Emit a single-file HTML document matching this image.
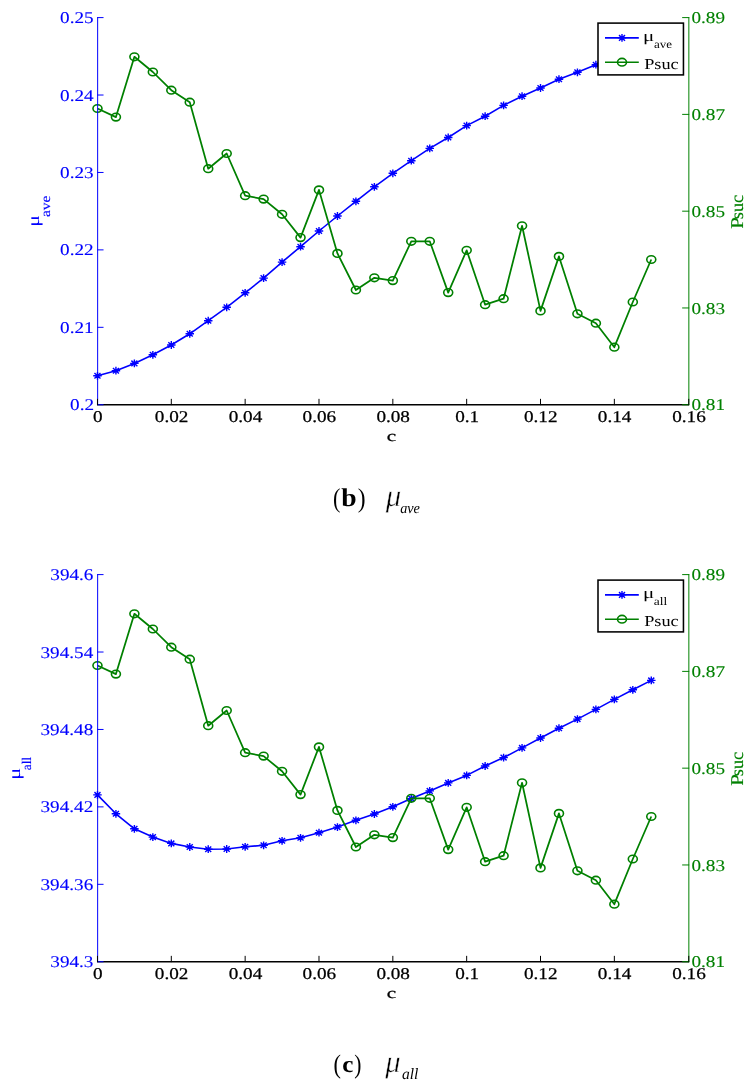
<!DOCTYPE html>
<html><head><meta charset="utf-8"><style>
html,body{margin:0;padding:0;background:#fff;overflow:hidden;}
svg{display:block;will-change:transform;}
</style></head><body>
<svg width="755" height="1090" viewBox="0 0 755 1090" text-rendering="geometricPrecision">
<rect width="755" height="1090" fill="#fff"/>
<polyline points="97.47,375.80 115.93,370.70 134.39,363.40 152.85,354.80 171.31,345.00 189.77,333.80 208.23,320.70 226.69,307.30 245.15,292.80 263.61,278.10 282.07,262.10 300.53,246.70 318.99,231.00 337.45,216.00 355.91,201.30 374.37,186.80 392.83,173.30 411.29,160.70 429.75,148.40 448.21,137.50 466.67,125.60 485.13,116.20 503.59,105.40 522.05,96.20 540.51,88.00 558.97,79.20 577.43,72.30 595.89,64.70 614.35,57.90 632.81,51.20 651.27,44.60" fill="none" stroke="#0000ff" stroke-width="1.6" stroke-linejoin="round"/>
<path d="M93.22,375.80L101.72,375.80M97.47,371.90L97.47,379.70M94.46,373.04L100.48,378.56M94.46,378.56L100.48,373.04M111.68,370.70L120.18,370.70M115.93,366.80L115.93,374.60M112.92,367.94L118.94,373.46M112.92,373.46L118.94,367.94M130.14,363.40L138.64,363.40M134.39,359.50L134.39,367.30M131.38,360.64L137.40,366.16M131.38,366.16L137.40,360.64M148.60,354.80L157.10,354.80M152.85,350.90L152.85,358.70M149.84,352.04L155.86,357.56M149.84,357.56L155.86,352.04M167.06,345.00L175.56,345.00M171.31,341.10L171.31,348.90M168.30,342.24L174.32,347.76M168.30,347.76L174.32,342.24M185.52,333.80L194.02,333.80M189.77,329.90L189.77,337.70M186.76,331.04L192.78,336.56M186.76,336.56L192.78,331.04M203.98,320.70L212.48,320.70M208.23,316.80L208.23,324.60M205.22,317.94L211.24,323.46M205.22,323.46L211.24,317.94M222.44,307.30L230.94,307.30M226.69,303.40L226.69,311.20M223.68,304.54L229.70,310.06M223.68,310.06L229.70,304.54M240.90,292.80L249.40,292.80M245.15,288.90L245.15,296.70M242.14,290.04L248.16,295.56M242.14,295.56L248.16,290.04M259.36,278.10L267.86,278.10M263.61,274.20L263.61,282.00M260.60,275.34L266.62,280.86M260.60,280.86L266.62,275.34M277.82,262.10L286.32,262.10M282.07,258.20L282.07,266.00M279.06,259.34L285.08,264.86M279.06,264.86L285.08,259.34M296.28,246.70L304.78,246.70M300.53,242.80L300.53,250.60M297.52,243.94L303.54,249.46M297.52,249.46L303.54,243.94M314.74,231.00L323.24,231.00M318.99,227.10L318.99,234.90M315.98,228.24L322.00,233.76M315.98,233.76L322.00,228.24M333.20,216.00L341.70,216.00M337.45,212.10L337.45,219.90M334.44,213.24L340.46,218.76M334.44,218.76L340.46,213.24M351.66,201.30L360.16,201.30M355.91,197.40L355.91,205.20M352.90,198.54L358.92,204.06M352.90,204.06L358.92,198.54M370.12,186.80L378.62,186.80M374.37,182.90L374.37,190.70M371.36,184.04L377.38,189.56M371.36,189.56L377.38,184.04M388.58,173.30L397.08,173.30M392.83,169.40L392.83,177.20M389.82,170.54L395.84,176.06M389.82,176.06L395.84,170.54M407.04,160.70L415.54,160.70M411.29,156.80L411.29,164.60M408.28,157.94L414.30,163.46M408.28,163.46L414.30,157.94M425.50,148.40L434.00,148.40M429.75,144.50L429.75,152.30M426.74,145.64L432.76,151.16M426.74,151.16L432.76,145.64M443.96,137.50L452.46,137.50M448.21,133.60L448.21,141.40M445.20,134.74L451.22,140.26M445.20,140.26L451.22,134.74M462.42,125.60L470.92,125.60M466.67,121.70L466.67,129.50M463.66,122.84L469.68,128.36M463.66,128.36L469.68,122.84M480.88,116.20L489.38,116.20M485.13,112.30L485.13,120.10M482.12,113.44L488.14,118.96M482.12,118.96L488.14,113.44M499.34,105.40L507.84,105.40M503.59,101.50L503.59,109.30M500.58,102.64L506.60,108.16M500.58,108.16L506.60,102.64M517.80,96.20L526.30,96.20M522.05,92.30L522.05,100.10M519.04,93.44L525.06,98.96M519.04,98.96L525.06,93.44M536.26,88.00L544.76,88.00M540.51,84.10L540.51,91.90M537.50,85.24L543.52,90.76M537.50,90.76L543.52,85.24M554.72,79.20L563.22,79.20M558.97,75.30L558.97,83.10M555.96,76.44L561.98,81.96M555.96,81.96L561.98,76.44M573.18,72.30L581.68,72.30M577.43,68.40L577.43,76.20M574.42,69.54L580.44,75.06M574.42,75.06L580.44,69.54M591.64,64.70L600.14,64.70M595.89,60.80L595.89,68.60M592.88,61.94L598.90,67.46M592.88,67.46L598.90,61.94M610.10,57.90L618.60,57.90M614.35,54.00L614.35,61.80M611.34,55.14L617.36,60.66M611.34,60.66L617.36,55.14M628.56,51.20L637.06,51.20M632.81,47.30L632.81,55.10M629.80,48.44L635.82,53.96M629.80,53.96L635.82,48.44M647.02,44.60L655.52,44.60M651.27,40.70L651.27,48.50M648.26,41.84L654.28,47.36M648.26,47.36L654.28,41.84" stroke="#0000ff" stroke-width="1.4" fill="none"/>
<polyline points="97.47,108.50 115.93,117.10 134.39,56.80 152.85,72.00 171.31,90.20 189.77,102.20 208.23,168.70 226.69,153.50 245.15,195.70 263.61,199.10 282.07,214.30 300.53,237.60 318.99,189.90 337.45,253.40 355.91,290.00 374.37,277.80 392.83,280.60 411.29,241.30 429.75,241.30 448.21,292.60 466.67,250.30 485.13,304.70 503.59,298.70 522.05,225.80 540.51,310.90 558.97,256.40 577.43,313.80 595.89,323.20 614.35,347.20 632.81,302.00 651.27,259.50" fill="none" stroke="#008000" stroke-width="1.75" stroke-linejoin="round"/>
<ellipse cx="97.47" cy="108.50" rx="4.5" ry="3.8" fill="none" stroke="#008000" stroke-width="1.6"/>
<ellipse cx="115.93" cy="117.10" rx="4.5" ry="3.8" fill="none" stroke="#008000" stroke-width="1.6"/>
<ellipse cx="134.39" cy="56.80" rx="4.5" ry="3.8" fill="none" stroke="#008000" stroke-width="1.6"/>
<ellipse cx="152.85" cy="72.00" rx="4.5" ry="3.8" fill="none" stroke="#008000" stroke-width="1.6"/>
<ellipse cx="171.31" cy="90.20" rx="4.5" ry="3.8" fill="none" stroke="#008000" stroke-width="1.6"/>
<ellipse cx="189.77" cy="102.20" rx="4.5" ry="3.8" fill="none" stroke="#008000" stroke-width="1.6"/>
<ellipse cx="208.23" cy="168.70" rx="4.5" ry="3.8" fill="none" stroke="#008000" stroke-width="1.6"/>
<ellipse cx="226.69" cy="153.50" rx="4.5" ry="3.8" fill="none" stroke="#008000" stroke-width="1.6"/>
<ellipse cx="245.15" cy="195.70" rx="4.5" ry="3.8" fill="none" stroke="#008000" stroke-width="1.6"/>
<ellipse cx="263.61" cy="199.10" rx="4.5" ry="3.8" fill="none" stroke="#008000" stroke-width="1.6"/>
<ellipse cx="282.07" cy="214.30" rx="4.5" ry="3.8" fill="none" stroke="#008000" stroke-width="1.6"/>
<ellipse cx="300.53" cy="237.60" rx="4.5" ry="3.8" fill="none" stroke="#008000" stroke-width="1.6"/>
<ellipse cx="318.99" cy="189.90" rx="4.5" ry="3.8" fill="none" stroke="#008000" stroke-width="1.6"/>
<ellipse cx="337.45" cy="253.40" rx="4.5" ry="3.8" fill="none" stroke="#008000" stroke-width="1.6"/>
<ellipse cx="355.91" cy="290.00" rx="4.5" ry="3.8" fill="none" stroke="#008000" stroke-width="1.6"/>
<ellipse cx="374.37" cy="277.80" rx="4.5" ry="3.8" fill="none" stroke="#008000" stroke-width="1.6"/>
<ellipse cx="392.83" cy="280.60" rx="4.5" ry="3.8" fill="none" stroke="#008000" stroke-width="1.6"/>
<ellipse cx="411.29" cy="241.30" rx="4.5" ry="3.8" fill="none" stroke="#008000" stroke-width="1.6"/>
<ellipse cx="429.75" cy="241.30" rx="4.5" ry="3.8" fill="none" stroke="#008000" stroke-width="1.6"/>
<ellipse cx="448.21" cy="292.60" rx="4.5" ry="3.8" fill="none" stroke="#008000" stroke-width="1.6"/>
<ellipse cx="466.67" cy="250.30" rx="4.5" ry="3.8" fill="none" stroke="#008000" stroke-width="1.6"/>
<ellipse cx="485.13" cy="304.70" rx="4.5" ry="3.8" fill="none" stroke="#008000" stroke-width="1.6"/>
<ellipse cx="503.59" cy="298.70" rx="4.5" ry="3.8" fill="none" stroke="#008000" stroke-width="1.6"/>
<ellipse cx="522.05" cy="225.80" rx="4.5" ry="3.8" fill="none" stroke="#008000" stroke-width="1.6"/>
<ellipse cx="540.51" cy="310.90" rx="4.5" ry="3.8" fill="none" stroke="#008000" stroke-width="1.6"/>
<ellipse cx="558.97" cy="256.40" rx="4.5" ry="3.8" fill="none" stroke="#008000" stroke-width="1.6"/>
<ellipse cx="577.43" cy="313.80" rx="4.5" ry="3.8" fill="none" stroke="#008000" stroke-width="1.6"/>
<ellipse cx="595.89" cy="323.20" rx="4.5" ry="3.8" fill="none" stroke="#008000" stroke-width="1.6"/>
<ellipse cx="614.35" cy="347.20" rx="4.5" ry="3.8" fill="none" stroke="#008000" stroke-width="1.6"/>
<ellipse cx="632.81" cy="302.00" rx="4.5" ry="3.8" fill="none" stroke="#008000" stroke-width="1.6"/>
<ellipse cx="651.27" cy="259.50" rx="4.5" ry="3.8" fill="none" stroke="#008000" stroke-width="1.6"/>
<line x1="97.65" y1="17.1" x2="97.65" y2="404.75" stroke="#0000ff" stroke-width="1.0"/>
<line x1="97.15" y1="404.75" x2="688.85" y2="404.75" stroke="#000000" stroke-width="1.45"/>
<text transform="translate(386.66,441.45) scale(1.3862,1)" font-family="Liberation Serif" font-size="15.208" fill="#000000" stroke="#000000" stroke-width="0.25">c</text>
<line x1="97.65" y1="404.75" x2="103.15" y2="404.75" stroke="#0000ff" stroke-width="1.0" stroke-linecap="round"/>
<text transform="translate(70.07,410.22) scale(1.1700,1)" font-family="Liberation Serif" font-size="16.400" fill="#0000ff" stroke="#0000ff" stroke-width="0.12">0.2</text>
<line x1="97.65" y1="327.32" x2="103.15" y2="327.32" stroke="#0000ff" stroke-width="1.0" stroke-linecap="round"/>
<text transform="translate(60.09,332.79) scale(1.1700,1)" font-family="Liberation Serif" font-size="16.400" fill="#0000ff" stroke="#0000ff" stroke-width="0.12">0.21</text>
<line x1="97.65" y1="249.89" x2="103.15" y2="249.89" stroke="#0000ff" stroke-width="1.0" stroke-linecap="round"/>
<text transform="translate(60.09,255.36) scale(1.1700,1)" font-family="Liberation Serif" font-size="16.400" fill="#0000ff" stroke="#0000ff" stroke-width="0.12">0.22</text>
<line x1="97.65" y1="172.46" x2="103.15" y2="172.46" stroke="#0000ff" stroke-width="1.0" stroke-linecap="round"/>
<text transform="translate(60.09,177.93) scale(1.1700,1)" font-family="Liberation Serif" font-size="16.400" fill="#0000ff" stroke="#0000ff" stroke-width="0.12">0.23</text>
<line x1="97.65" y1="95.03" x2="103.15" y2="95.03" stroke="#0000ff" stroke-width="1.0" stroke-linecap="round"/>
<text transform="translate(60.09,100.50) scale(1.1700,1)" font-family="Liberation Serif" font-size="16.400" fill="#0000ff" stroke="#0000ff" stroke-width="0.12">0.24</text>
<line x1="97.65" y1="17.60" x2="103.15" y2="17.60" stroke="#0000ff" stroke-width="1.0" stroke-linecap="round"/>
<text transform="translate(60.09,23.07) scale(1.1700,1)" font-family="Liberation Serif" font-size="16.400" fill="#0000ff" stroke="#0000ff" stroke-width="0.12">0.25</text>
<line x1="688.85" y1="17.1" x2="688.85" y2="405.25" stroke="#008000" stroke-width="1.0"/>
<line x1="682.5500000000001" y1="404.75" x2="688.85" y2="404.75" stroke="#008000" stroke-width="1.0" stroke-linecap="round"/>
<text transform="translate(691.43,410.47) scale(1.1700,1)" font-family="Liberation Serif" font-size="16.400" fill="#008000" stroke="#008000" stroke-width="0.12">0.81</text>
<line x1="682.5500000000001" y1="307.96" x2="688.85" y2="307.96" stroke="#008000" stroke-width="1.0" stroke-linecap="round"/>
<text transform="translate(691.43,313.68) scale(1.1700,1)" font-family="Liberation Serif" font-size="16.400" fill="#008000" stroke="#008000" stroke-width="0.12">0.83</text>
<line x1="682.5500000000001" y1="211.18" x2="688.85" y2="211.18" stroke="#008000" stroke-width="1.0" stroke-linecap="round"/>
<text transform="translate(691.43,216.89) scale(1.1700,1)" font-family="Liberation Serif" font-size="16.400" fill="#008000" stroke="#008000" stroke-width="0.12">0.85</text>
<line x1="682.5500000000001" y1="114.39" x2="688.85" y2="114.39" stroke="#008000" stroke-width="1.0" stroke-linecap="round"/>
<text transform="translate(691.43,120.10) scale(1.1700,1)" font-family="Liberation Serif" font-size="16.400" fill="#008000" stroke="#008000" stroke-width="0.12">0.87</text>
<line x1="682.5500000000001" y1="17.60" x2="688.85" y2="17.60" stroke="#008000" stroke-width="1.0" stroke-linecap="round"/>
<text transform="translate(691.43,23.32) scale(1.1700,1)" font-family="Liberation Serif" font-size="16.400" fill="#008000" stroke="#008000" stroke-width="0.12">0.89</text>
<line x1="97.47" y1="404.75" x2="97.47" y2="399.25" stroke="#000000" stroke-width="1.0" stroke-linecap="round"/>
<text transform="translate(93.02,421.62) scale(1.1700,1)" font-family="Liberation Serif" font-size="16.400" fill="#000000" stroke="#000000" stroke-width="0.25">0</text>
<line x1="171.31" y1="404.75" x2="171.31" y2="399.25" stroke="#000000" stroke-width="1.0" stroke-linecap="round"/>
<text transform="translate(154.87,421.62) scale(1.1700,1)" font-family="Liberation Serif" font-size="16.400" fill="#000000" stroke="#000000" stroke-width="0.25">0.02</text>
<line x1="245.15" y1="404.75" x2="245.15" y2="399.25" stroke="#000000" stroke-width="1.0" stroke-linecap="round"/>
<text transform="translate(228.71,421.62) scale(1.1700,1)" font-family="Liberation Serif" font-size="16.400" fill="#000000" stroke="#000000" stroke-width="0.25">0.04</text>
<line x1="318.99" y1="404.75" x2="318.99" y2="399.25" stroke="#000000" stroke-width="1.0" stroke-linecap="round"/>
<text transform="translate(302.55,421.62) scale(1.1700,1)" font-family="Liberation Serif" font-size="16.400" fill="#000000" stroke="#000000" stroke-width="0.25">0.06</text>
<line x1="392.83" y1="404.75" x2="392.83" y2="399.25" stroke="#000000" stroke-width="1.0" stroke-linecap="round"/>
<text transform="translate(376.39,421.62) scale(1.1700,1)" font-family="Liberation Serif" font-size="16.400" fill="#000000" stroke="#000000" stroke-width="0.25">0.08</text>
<line x1="466.67" y1="404.75" x2="466.67" y2="399.25" stroke="#000000" stroke-width="1.0" stroke-linecap="round"/>
<text transform="translate(455.22,421.70) scale(1.1700,1)" font-family="Liberation Serif" font-size="16.400" fill="#000000" stroke="#000000" stroke-width="0.25">0.1</text>
<line x1="540.51" y1="404.75" x2="540.51" y2="399.25" stroke="#000000" stroke-width="1.0" stroke-linecap="round"/>
<text transform="translate(523.97,421.70) scale(1.1700,1)" font-family="Liberation Serif" font-size="16.400" fill="#000000" stroke="#000000" stroke-width="0.25">0.12</text>
<line x1="614.35" y1="404.75" x2="614.35" y2="399.25" stroke="#000000" stroke-width="1.0" stroke-linecap="round"/>
<text transform="translate(597.81,421.70) scale(1.1700,1)" font-family="Liberation Serif" font-size="16.400" fill="#000000" stroke="#000000" stroke-width="0.25">0.14</text>
<line x1="688.75" y1="404.75" x2="688.75" y2="399.25" stroke="#000000" stroke-width="1.0" stroke-linecap="round"/>
<text transform="translate(672.21,421.70) scale(1.1700,1)" font-family="Liberation Serif" font-size="16.400" fill="#000000" stroke="#000000" stroke-width="0.25">0.16</text>
<rect x="598.0" y="23.1" width="85.45" height="51.80" fill="#fff" stroke="#000000" stroke-width="1.55"/>
<line x1="605" y1="37.9" x2="638.8" y2="37.9" stroke="#0000ff" stroke-width="1.6"/>
<path d="M617.75,37.90L626.25,37.90M622.00,34.00L622.00,41.80M618.99,35.14L625.01,40.66M618.99,40.66L625.01,35.14" stroke="#0000ff" stroke-width="1.4" fill="none"/>
<line x1="605" y1="62.2" x2="638.8" y2="62.2" stroke="#008000" stroke-width="1.6"/>
<ellipse cx="622" cy="62.2" rx="4.5" ry="3.8" fill="none" stroke="#008000" stroke-width="1.6"/>
<text transform="translate(643.02,40.64) scale(1.3498,1)" font-family="Liberation Serif" font-size="15.522" fill="#000000">&#956;</text>
<text transform="translate(653.98,48.28) scale(1.1189,1)" font-family="Liberation Serif" font-size="11.667" fill="#000000">ave</text>
<text transform="translate(644.15,69.25) scale(1.2046,1)" font-family="Liberation Serif" font-size="15.152" fill="#000000">Psuc</text>
<text transform="translate(38.79,226.75) rotate(-90) scale(1.3104,1)" font-family="Liberation Serif" font-size="16.716" fill="#0000ff">&#956;</text>
<text transform="translate(49.87,217.02) rotate(-90) scale(1.1622,1)" font-family="Liberation Serif" font-size="13.333" fill="#0000ff" stroke="#0000ff" stroke-width="0.12">ave</text>
<text transform="translate(742.80,228.83) rotate(-90) scale(1.1678,1)" font-family="Liberation Serif" font-size="18.000" fill="#008000" stroke="#008000" stroke-width="0.12">P</text>
<text transform="translate(743.02,219.24) rotate(-90) scale(1.0277,1)" font-family="Liberation Serif" font-size="17.917" fill="#008000" stroke="#008000" stroke-width="0.12">suc</text>
<polyline points="97.47,794.90 115.93,813.80 134.39,828.80 152.85,837.10 171.31,843.40 189.77,847.00 208.23,849.20 226.69,849.00 245.15,846.80 263.61,845.30 282.07,840.80 300.53,837.80 318.99,832.70 337.45,827.10 355.91,820.30 374.37,814.00 392.83,806.80 411.29,798.60 429.75,790.90 448.21,782.90 466.67,775.40 485.13,766.00 503.59,757.60 522.05,747.90 540.51,738.00 558.97,728.20 577.43,719.10 595.89,709.40 614.35,699.40 632.81,689.80 651.27,680.40" fill="none" stroke="#0000ff" stroke-width="1.6" stroke-linejoin="round"/>
<path d="M93.22,794.90L101.72,794.90M97.47,791.00L97.47,798.80M94.46,792.14L100.48,797.66M94.46,797.66L100.48,792.14M111.68,813.80L120.18,813.80M115.93,809.90L115.93,817.70M112.92,811.04L118.94,816.56M112.92,816.56L118.94,811.04M130.14,828.80L138.64,828.80M134.39,824.90L134.39,832.70M131.38,826.04L137.40,831.56M131.38,831.56L137.40,826.04M148.60,837.10L157.10,837.10M152.85,833.20L152.85,841.00M149.84,834.34L155.86,839.86M149.84,839.86L155.86,834.34M167.06,843.40L175.56,843.40M171.31,839.50L171.31,847.30M168.30,840.64L174.32,846.16M168.30,846.16L174.32,840.64M185.52,847.00L194.02,847.00M189.77,843.10L189.77,850.90M186.76,844.24L192.78,849.76M186.76,849.76L192.78,844.24M203.98,849.20L212.48,849.20M208.23,845.30L208.23,853.10M205.22,846.44L211.24,851.96M205.22,851.96L211.24,846.44M222.44,849.00L230.94,849.00M226.69,845.10L226.69,852.90M223.68,846.24L229.70,851.76M223.68,851.76L229.70,846.24M240.90,846.80L249.40,846.80M245.15,842.90L245.15,850.70M242.14,844.04L248.16,849.56M242.14,849.56L248.16,844.04M259.36,845.30L267.86,845.30M263.61,841.40L263.61,849.20M260.60,842.54L266.62,848.06M260.60,848.06L266.62,842.54M277.82,840.80L286.32,840.80M282.07,836.90L282.07,844.70M279.06,838.04L285.08,843.56M279.06,843.56L285.08,838.04M296.28,837.80L304.78,837.80M300.53,833.90L300.53,841.70M297.52,835.04L303.54,840.56M297.52,840.56L303.54,835.04M314.74,832.70L323.24,832.70M318.99,828.80L318.99,836.60M315.98,829.94L322.00,835.46M315.98,835.46L322.00,829.94M333.20,827.10L341.70,827.10M337.45,823.20L337.45,831.00M334.44,824.34L340.46,829.86M334.44,829.86L340.46,824.34M351.66,820.30L360.16,820.30M355.91,816.40L355.91,824.20M352.90,817.54L358.92,823.06M352.90,823.06L358.92,817.54M370.12,814.00L378.62,814.00M374.37,810.10L374.37,817.90M371.36,811.24L377.38,816.76M371.36,816.76L377.38,811.24M388.58,806.80L397.08,806.80M392.83,802.90L392.83,810.70M389.82,804.04L395.84,809.56M389.82,809.56L395.84,804.04M407.04,798.60L415.54,798.60M411.29,794.70L411.29,802.50M408.28,795.84L414.30,801.36M408.28,801.36L414.30,795.84M425.50,790.90L434.00,790.90M429.75,787.00L429.75,794.80M426.74,788.14L432.76,793.66M426.74,793.66L432.76,788.14M443.96,782.90L452.46,782.90M448.21,779.00L448.21,786.80M445.20,780.14L451.22,785.66M445.20,785.66L451.22,780.14M462.42,775.40L470.92,775.40M466.67,771.50L466.67,779.30M463.66,772.64L469.68,778.16M463.66,778.16L469.68,772.64M480.88,766.00L489.38,766.00M485.13,762.10L485.13,769.90M482.12,763.24L488.14,768.76M482.12,768.76L488.14,763.24M499.34,757.60L507.84,757.60M503.59,753.70L503.59,761.50M500.58,754.84L506.60,760.36M500.58,760.36L506.60,754.84M517.80,747.90L526.30,747.90M522.05,744.00L522.05,751.80M519.04,745.14L525.06,750.66M519.04,750.66L525.06,745.14M536.26,738.00L544.76,738.00M540.51,734.10L540.51,741.90M537.50,735.24L543.52,740.76M537.50,740.76L543.52,735.24M554.72,728.20L563.22,728.20M558.97,724.30L558.97,732.10M555.96,725.44L561.98,730.96M555.96,730.96L561.98,725.44M573.18,719.10L581.68,719.10M577.43,715.20L577.43,723.00M574.42,716.34L580.44,721.86M574.42,721.86L580.44,716.34M591.64,709.40L600.14,709.40M595.89,705.50L595.89,713.30M592.88,706.64L598.90,712.16M592.88,712.16L598.90,706.64M610.10,699.40L618.60,699.40M614.35,695.50L614.35,703.30M611.34,696.64L617.36,702.16M611.34,702.16L617.36,696.64M628.56,689.80L637.06,689.80M632.81,685.90L632.81,693.70M629.80,687.04L635.82,692.56M629.80,692.56L635.82,687.04M647.02,680.40L655.52,680.40M651.27,676.50L651.27,684.30M648.26,677.64L654.28,683.16M648.26,683.16L654.28,677.64" stroke="#0000ff" stroke-width="1.4" fill="none"/>
<polyline points="97.47,665.50 115.93,674.10 134.39,613.80 152.85,629.00 171.31,647.20 189.77,659.20 208.23,725.70 226.69,710.50 245.15,752.70 263.61,756.10 282.07,771.30 300.53,794.60 318.99,746.90 337.45,810.40 355.91,847.00 374.37,834.80 392.83,837.60 411.29,798.30 429.75,798.30 448.21,849.60 466.67,807.30 485.13,861.70 503.59,855.70 522.05,782.80 540.51,867.90 558.97,813.40 577.43,870.80 595.89,880.20 614.35,904.20 632.81,859.00 651.27,816.50" fill="none" stroke="#008000" stroke-width="1.75" stroke-linejoin="round"/>
<ellipse cx="97.47" cy="665.50" rx="4.5" ry="3.8" fill="none" stroke="#008000" stroke-width="1.6"/>
<ellipse cx="115.93" cy="674.10" rx="4.5" ry="3.8" fill="none" stroke="#008000" stroke-width="1.6"/>
<ellipse cx="134.39" cy="613.80" rx="4.5" ry="3.8" fill="none" stroke="#008000" stroke-width="1.6"/>
<ellipse cx="152.85" cy="629.00" rx="4.5" ry="3.8" fill="none" stroke="#008000" stroke-width="1.6"/>
<ellipse cx="171.31" cy="647.20" rx="4.5" ry="3.8" fill="none" stroke="#008000" stroke-width="1.6"/>
<ellipse cx="189.77" cy="659.20" rx="4.5" ry="3.8" fill="none" stroke="#008000" stroke-width="1.6"/>
<ellipse cx="208.23" cy="725.70" rx="4.5" ry="3.8" fill="none" stroke="#008000" stroke-width="1.6"/>
<ellipse cx="226.69" cy="710.50" rx="4.5" ry="3.8" fill="none" stroke="#008000" stroke-width="1.6"/>
<ellipse cx="245.15" cy="752.70" rx="4.5" ry="3.8" fill="none" stroke="#008000" stroke-width="1.6"/>
<ellipse cx="263.61" cy="756.10" rx="4.5" ry="3.8" fill="none" stroke="#008000" stroke-width="1.6"/>
<ellipse cx="282.07" cy="771.30" rx="4.5" ry="3.8" fill="none" stroke="#008000" stroke-width="1.6"/>
<ellipse cx="300.53" cy="794.60" rx="4.5" ry="3.8" fill="none" stroke="#008000" stroke-width="1.6"/>
<ellipse cx="318.99" cy="746.90" rx="4.5" ry="3.8" fill="none" stroke="#008000" stroke-width="1.6"/>
<ellipse cx="337.45" cy="810.40" rx="4.5" ry="3.8" fill="none" stroke="#008000" stroke-width="1.6"/>
<ellipse cx="355.91" cy="847.00" rx="4.5" ry="3.8" fill="none" stroke="#008000" stroke-width="1.6"/>
<ellipse cx="374.37" cy="834.80" rx="4.5" ry="3.8" fill="none" stroke="#008000" stroke-width="1.6"/>
<ellipse cx="392.83" cy="837.60" rx="4.5" ry="3.8" fill="none" stroke="#008000" stroke-width="1.6"/>
<ellipse cx="411.29" cy="798.30" rx="4.5" ry="3.8" fill="none" stroke="#008000" stroke-width="1.6"/>
<ellipse cx="429.75" cy="798.30" rx="4.5" ry="3.8" fill="none" stroke="#008000" stroke-width="1.6"/>
<ellipse cx="448.21" cy="849.60" rx="4.5" ry="3.8" fill="none" stroke="#008000" stroke-width="1.6"/>
<ellipse cx="466.67" cy="807.30" rx="4.5" ry="3.8" fill="none" stroke="#008000" stroke-width="1.6"/>
<ellipse cx="485.13" cy="861.70" rx="4.5" ry="3.8" fill="none" stroke="#008000" stroke-width="1.6"/>
<ellipse cx="503.59" cy="855.70" rx="4.5" ry="3.8" fill="none" stroke="#008000" stroke-width="1.6"/>
<ellipse cx="522.05" cy="782.80" rx="4.5" ry="3.8" fill="none" stroke="#008000" stroke-width="1.6"/>
<ellipse cx="540.51" cy="867.90" rx="4.5" ry="3.8" fill="none" stroke="#008000" stroke-width="1.6"/>
<ellipse cx="558.97" cy="813.40" rx="4.5" ry="3.8" fill="none" stroke="#008000" stroke-width="1.6"/>
<ellipse cx="577.43" cy="870.80" rx="4.5" ry="3.8" fill="none" stroke="#008000" stroke-width="1.6"/>
<ellipse cx="595.89" cy="880.20" rx="4.5" ry="3.8" fill="none" stroke="#008000" stroke-width="1.6"/>
<ellipse cx="614.35" cy="904.20" rx="4.5" ry="3.8" fill="none" stroke="#008000" stroke-width="1.6"/>
<ellipse cx="632.81" cy="859.00" rx="4.5" ry="3.8" fill="none" stroke="#008000" stroke-width="1.6"/>
<ellipse cx="651.27" cy="816.50" rx="4.5" ry="3.8" fill="none" stroke="#008000" stroke-width="1.6"/>
<line x1="97.65" y1="574.1" x2="97.65" y2="961.75" stroke="#0000ff" stroke-width="1.0"/>
<line x1="97.15" y1="961.75" x2="688.85" y2="961.75" stroke="#000000" stroke-width="1.45"/>
<text transform="translate(386.66,998.45) scale(1.3862,1)" font-family="Liberation Serif" font-size="15.208" fill="#000000" stroke="#000000" stroke-width="0.25">c</text>
<line x1="97.65" y1="961.75" x2="103.15" y2="961.75" stroke="#0000ff" stroke-width="1.0" stroke-linecap="round"/>
<text transform="translate(50.30,967.22) scale(1.1700,1)" font-family="Liberation Serif" font-size="16.400" fill="#0000ff" stroke="#0000ff" stroke-width="0.12">394.3</text>
<line x1="97.65" y1="884.32" x2="103.15" y2="884.32" stroke="#0000ff" stroke-width="1.0" stroke-linecap="round"/>
<text transform="translate(40.52,889.87) scale(1.1700,1)" font-family="Liberation Serif" font-size="16.400" fill="#0000ff" stroke="#0000ff" stroke-width="0.12">394.36</text>
<line x1="97.65" y1="806.89" x2="103.15" y2="806.89" stroke="#0000ff" stroke-width="1.0" stroke-linecap="round"/>
<text transform="translate(40.52,812.44) scale(1.1700,1)" font-family="Liberation Serif" font-size="16.400" fill="#0000ff" stroke="#0000ff" stroke-width="0.12">394.42</text>
<line x1="97.65" y1="729.46" x2="103.15" y2="729.46" stroke="#0000ff" stroke-width="1.0" stroke-linecap="round"/>
<text transform="translate(40.52,735.01) scale(1.1700,1)" font-family="Liberation Serif" font-size="16.400" fill="#0000ff" stroke="#0000ff" stroke-width="0.12">394.48</text>
<line x1="97.65" y1="652.03" x2="103.15" y2="652.03" stroke="#0000ff" stroke-width="1.0" stroke-linecap="round"/>
<text transform="translate(40.52,657.58) scale(1.1700,1)" font-family="Liberation Serif" font-size="16.400" fill="#0000ff" stroke="#0000ff" stroke-width="0.12">394.54</text>
<line x1="97.65" y1="574.60" x2="103.15" y2="574.60" stroke="#0000ff" stroke-width="1.0" stroke-linecap="round"/>
<text transform="translate(50.30,580.07) scale(1.1700,1)" font-family="Liberation Serif" font-size="16.400" fill="#0000ff" stroke="#0000ff" stroke-width="0.12">394.6</text>
<line x1="688.85" y1="574.1" x2="688.85" y2="962.25" stroke="#008000" stroke-width="1.0"/>
<line x1="682.5500000000001" y1="961.75" x2="688.85" y2="961.75" stroke="#008000" stroke-width="1.0" stroke-linecap="round"/>
<text transform="translate(691.43,967.47) scale(1.1700,1)" font-family="Liberation Serif" font-size="16.400" fill="#008000" stroke="#008000" stroke-width="0.12">0.81</text>
<line x1="682.5500000000001" y1="864.96" x2="688.85" y2="864.96" stroke="#008000" stroke-width="1.0" stroke-linecap="round"/>
<text transform="translate(691.43,870.68) scale(1.1700,1)" font-family="Liberation Serif" font-size="16.400" fill="#008000" stroke="#008000" stroke-width="0.12">0.83</text>
<line x1="682.5500000000001" y1="768.17" x2="688.85" y2="768.17" stroke="#008000" stroke-width="1.0" stroke-linecap="round"/>
<text transform="translate(691.43,773.89) scale(1.1700,1)" font-family="Liberation Serif" font-size="16.400" fill="#008000" stroke="#008000" stroke-width="0.12">0.85</text>
<line x1="682.5500000000001" y1="671.39" x2="688.85" y2="671.39" stroke="#008000" stroke-width="1.0" stroke-linecap="round"/>
<text transform="translate(691.43,677.10) scale(1.1700,1)" font-family="Liberation Serif" font-size="16.400" fill="#008000" stroke="#008000" stroke-width="0.12">0.87</text>
<line x1="682.5500000000001" y1="574.60" x2="688.85" y2="574.60" stroke="#008000" stroke-width="1.0" stroke-linecap="round"/>
<text transform="translate(691.43,580.32) scale(1.1700,1)" font-family="Liberation Serif" font-size="16.400" fill="#008000" stroke="#008000" stroke-width="0.12">0.89</text>
<line x1="97.47" y1="961.75" x2="97.47" y2="956.25" stroke="#000000" stroke-width="1.0" stroke-linecap="round"/>
<text transform="translate(93.02,978.62) scale(1.1700,1)" font-family="Liberation Serif" font-size="16.400" fill="#000000" stroke="#000000" stroke-width="0.25">0</text>
<line x1="171.31" y1="961.75" x2="171.31" y2="956.25" stroke="#000000" stroke-width="1.0" stroke-linecap="round"/>
<text transform="translate(154.87,978.62) scale(1.1700,1)" font-family="Liberation Serif" font-size="16.400" fill="#000000" stroke="#000000" stroke-width="0.25">0.02</text>
<line x1="245.15" y1="961.75" x2="245.15" y2="956.25" stroke="#000000" stroke-width="1.0" stroke-linecap="round"/>
<text transform="translate(228.71,978.62) scale(1.1700,1)" font-family="Liberation Serif" font-size="16.400" fill="#000000" stroke="#000000" stroke-width="0.25">0.04</text>
<line x1="318.99" y1="961.75" x2="318.99" y2="956.25" stroke="#000000" stroke-width="1.0" stroke-linecap="round"/>
<text transform="translate(302.55,978.62) scale(1.1700,1)" font-family="Liberation Serif" font-size="16.400" fill="#000000" stroke="#000000" stroke-width="0.25">0.06</text>
<line x1="392.83" y1="961.75" x2="392.83" y2="956.25" stroke="#000000" stroke-width="1.0" stroke-linecap="round"/>
<text transform="translate(376.39,978.62) scale(1.1700,1)" font-family="Liberation Serif" font-size="16.400" fill="#000000" stroke="#000000" stroke-width="0.25">0.08</text>
<line x1="466.67" y1="961.75" x2="466.67" y2="956.25" stroke="#000000" stroke-width="1.0" stroke-linecap="round"/>
<text transform="translate(455.22,978.70) scale(1.1700,1)" font-family="Liberation Serif" font-size="16.400" fill="#000000" stroke="#000000" stroke-width="0.25">0.1</text>
<line x1="540.51" y1="961.75" x2="540.51" y2="956.25" stroke="#000000" stroke-width="1.0" stroke-linecap="round"/>
<text transform="translate(523.97,978.70) scale(1.1700,1)" font-family="Liberation Serif" font-size="16.400" fill="#000000" stroke="#000000" stroke-width="0.25">0.12</text>
<line x1="614.35" y1="961.75" x2="614.35" y2="956.25" stroke="#000000" stroke-width="1.0" stroke-linecap="round"/>
<text transform="translate(597.81,978.70) scale(1.1700,1)" font-family="Liberation Serif" font-size="16.400" fill="#000000" stroke="#000000" stroke-width="0.25">0.14</text>
<line x1="688.75" y1="961.75" x2="688.75" y2="956.25" stroke="#000000" stroke-width="1.0" stroke-linecap="round"/>
<text transform="translate(672.21,978.70) scale(1.1700,1)" font-family="Liberation Serif" font-size="16.400" fill="#000000" stroke="#000000" stroke-width="0.25">0.16</text>
<rect x="598.0" y="580.1" width="85.45" height="51.80" fill="#fff" stroke="#000000" stroke-width="1.55"/>
<line x1="605" y1="594.9" x2="638.8" y2="594.9" stroke="#0000ff" stroke-width="1.6"/>
<path d="M617.75,594.90L626.25,594.90M622.00,591.00L622.00,598.80M618.99,592.14L625.01,597.66M618.99,597.66L625.01,592.14" stroke="#0000ff" stroke-width="1.4" fill="none"/>
<line x1="605" y1="619.2" x2="638.8" y2="619.2" stroke="#008000" stroke-width="1.6"/>
<ellipse cx="622" cy="619.2" rx="4.5" ry="3.8" fill="none" stroke="#008000" stroke-width="1.6"/>
<text transform="translate(643.02,597.64) scale(1.3498,1)" font-family="Liberation Serif" font-size="15.522" fill="#000000">&#956;</text>
<text transform="translate(653.86,605.29) scale(1.1729,1)" font-family="Liberation Serif" font-size="11.429" fill="#000000">all</text>
<text transform="translate(644.15,626.25) scale(1.2046,1)" font-family="Liberation Serif" font-size="15.152" fill="#000000">Psuc</text>
<text transform="translate(19.76,779.77) rotate(-90) scale(1.3129,1)" font-family="Liberation Serif" font-size="16.866" fill="#0000ff">&#956;</text>
<text transform="translate(30.77,770.23) rotate(-90) scale(1.0009,1)" font-family="Liberation Serif" font-size="13.286" fill="#0000ff" stroke="#0000ff" stroke-width="0.12">all</text>
<text transform="translate(742.80,785.83) rotate(-90) scale(1.1678,1)" font-family="Liberation Serif" font-size="18.000" fill="#008000" stroke="#008000" stroke-width="0.12">P</text>
<text transform="translate(743.02,776.24) rotate(-90) scale(1.0277,1)" font-family="Liberation Serif" font-size="17.917" fill="#008000" stroke="#008000" stroke-width="0.12">suc</text>
<text transform="translate(332.91,507.01) scale(0.8228,1)" font-family="Liberation Serif" font-size="27.111" fill="#000000">(</text>
<text transform="translate(341.32,506.44) scale(1.0812,1)" font-family="Liberation Serif" font-size="25.571" fill="#000000" font-weight="bold">b</text>
<text transform="translate(357.70,507.01) scale(0.8654,1)" font-family="Liberation Serif" font-size="27.111" fill="#000000">)</text>
<text transform="translate(385.70,506.05) scale(0.9890,1)" font-family="Liberation Serif" font-size="31.194" fill="#000000" font-style="italic" stroke="#ffffff" stroke-width="0.5">&#956;</text>
<text transform="translate(400.17,513.05) scale(0.9502,1)" font-family="Liberation Serif" font-size="15.000" fill="#000000" font-style="italic">ave</text>
<text transform="translate(333.61,1072.78) scale(0.8331,1)" font-family="Liberation Serif" font-size="26.778" fill="#000000">(</text>
<text transform="translate(342.35,1072.16) scale(1.0674,1)" font-family="Liberation Serif" font-size="23.542" fill="#000000" font-weight="bold">c</text>
<text transform="translate(354.25,1072.78) scale(0.8043,1)" font-family="Liberation Serif" font-size="26.778" fill="#000000">)</text>
<text transform="translate(385.20,1072.05) scale(0.9822,1)" font-family="Liberation Serif" font-size="31.194" fill="#000000" font-style="italic" stroke="#ffffff" stroke-width="0.5">&#956;</text>
<text transform="translate(401.93,1079.04) scale(0.9927,1)" font-family="Liberation Serif" font-size="15.714" fill="#000000" font-style="italic">all</text>
</svg>
</body></html>
